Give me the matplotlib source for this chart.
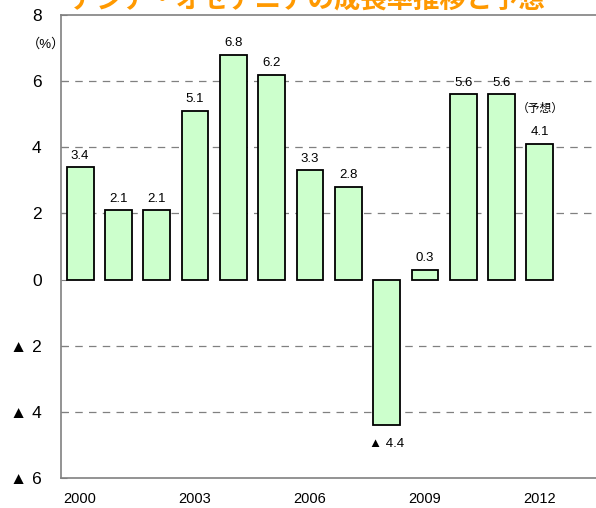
import matplotlib
matplotlib.use("agg")
import matplotlib.pyplot as plt
from matplotlib import rcParams

rcParams['font.family'] = ['Liberation Sans', 'Noto Sans CJK JP', 'DejaVu Sans']

# data
years = list(range(2000, 2013))
growth = [3.4, 2.1, 2.1, 5.1, 6.8, 6.2, 3.3, 2.8, -4.4, 0.3, 5.6, 5.6, 4.1]
year_ticks = [2000, 2003, 2006, 2009, 2012]
y_ticks = [8, 6, 4, 2, 0, -2, -4, -6]
y_tick_labels = ["8", "6", "4", "2", "0", "▲ 2", "▲ 4", "▲ 6"]
title_text = "アジア・オセアニアの成長率推移と予想"


def fmt(v):
    if v < 0:
        return "▲ %.1f" % abs(v)
    return "%.1f" % v


fig = plt.figure(figsize=(5.96, 5.08), dpi=100)
ax1 = fig.add_axes([0.1023, 0.059, 0.9, 0.9115])

x_pos = list(range(len(years)))
ax1.bar(x_pos, growth, width=0.7, color="#CCFFCC", edgecolor="black",
        linewidth=1.3, zorder=3)

for x, v in zip(x_pos, growth):
    if v >= 0:
        ax1.annotate(fmt(v), (x, v), xytext=(0, 4), textcoords="offset points",
                     ha="center", va="bottom", fontsize=9.5)
    else:
        ax1.annotate(fmt(v), (x, v), xytext=(0, -9), textcoords="offset points",
                     ha="center", va="top", fontsize=9.5)

# forecast note on the last bar
ax1.annotate("（予想）", (x_pos[-1], growth[-1]), xytext=(0, 21),
             textcoords="offset points", ha="center", va="bottom", fontsize=8.5)

ax1.set_ylim(-6, 8)
ax1.set_xlim(-0.5, 13.5)
ax1.set_yticks(y_ticks)
ax1.set_yticklabels(y_tick_labels, fontsize=12.5)
ax1.set_xticks([years.index(y) for y in year_ticks])
ax1.set_xticklabels([str(y) for y in year_ticks], fontsize=10.5)
ax1.tick_params(axis="y", length=4, direction="in", pad=14, color="#808080")
ax1.tick_params(axis="x", length=0, pad=10)

for yv in [6, 4, 2, -2, -4]:
    ax1.axhline(yv, color="#808080", linestyle=(0, (6, 5)), lw=0.9, zorder=1)

for side in ["left", "top", "bottom", "right"]:
    ax1.spines[side].set_color("#808080")
    ax1.spines[side].set_linewidth(1.2)

fig.text(0.045, 0.912, "（%）", fontsize=9.5, ha="left", va="center")
# title sits mostly above the top edge, as in the reference
fig.text(0.515, 1.0, title_text, fontsize=19, color="#FF9900", weight="bold",
         ha="center", va="center")

plt.savefig("out.png", dpi=100)
